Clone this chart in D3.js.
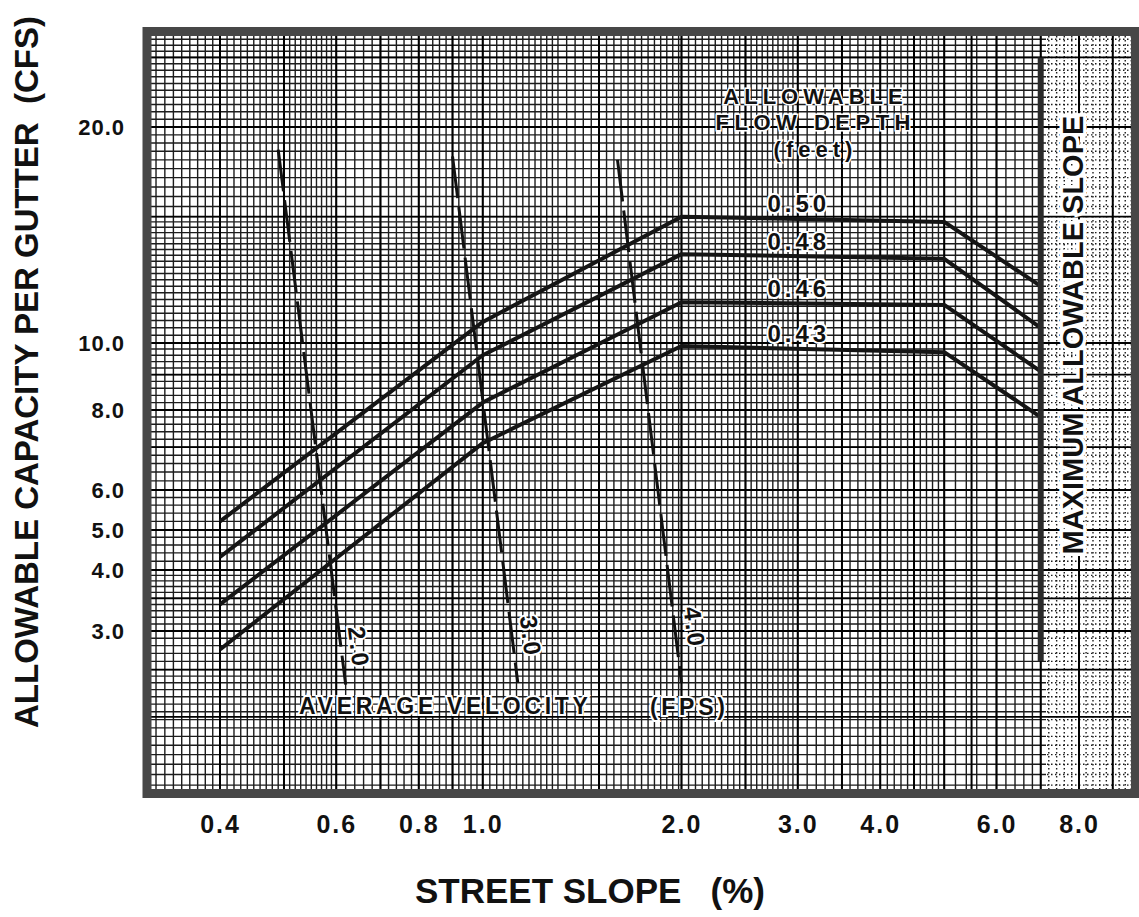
<!DOCTYPE html>
<html>
<head>
<meta charset="utf-8">
<script src="https://cdn.jsdelivr.net/npm/d3@7"></script>
<style>
  body { margin: 0; background: #fff; }
  svg text { font-family: "Liberation Sans", Arial, Helvetica, sans-serif; font-weight: bold; fill: #111; }
</style>
</head>
<body>
<svg id="chart" width="1139" height="917"></svg>
<script>
// street slope (%) at the curve vertices
var slopes = [0.4, 1.0, 2.0, 5.0, 7.0];
var depths = ["0.50", "0.48", "0.46", "0.43"];
// allowable capacity (cfs) for each flow depth at those slopes
var cap050 = [5.2, 10.7, 15.0, 14.75, 12.0];
var cap048 = [4.3, 9.6, 13.3, 13.1, 10.5];
var cap046 = [3.4, 8.2, 11.4, 11.3, 9.1];
var cap043 = [2.75, 7.1, 9.9, 9.7, 7.8];

// average velocity lines (fps), top and bottom ends
var velLabels = ["2.0", "3.0", "4.0"];
var velTopSlope = [0.49, 0.90, 1.60];
var velTopCap = [18.6, 18.2, 18.0];
var velBotSlope = [0.62, 1.13, 2.0];
var velBotCap = [2.33, 2.35, 2.35];

var maxSlope = 7.0;
var maxSlopeCap = [25, 2.6];

var xTicks = [0.4, 0.6, 0.8, 1.0, 2.0, 3.0, 4.0, 6.0, 8.0];
var yTicks = [3, 4, 5, 6, 8, 10, 20];

var svg = d3.select("#chart");
var inner = { left: 151, right: 1131, top: 36, bottom: 789 };

var x = d3.scaleLog().domain([0.4, 8]).range([220, 1079]);
// the printed capacity labels are not evenly spaced, so the scale is piecewise
var y = d3.scaleLog().domain(yTicks).range([631, 570, 530, 490, 410, 343, 127]);

var defs = svg.append("defs");
defs.append("clipPath").attr("id", "clipL").append("rect")
  .attr("x", inner.left).attr("y", inner.top)
  .attr("width", 1046 - inner.left).attr("height", inner.bottom - inner.top);
defs.append("clipPath").attr("id", "clipR").append("rect")
  .attr("x", 1046).attr("y", inner.top)
  .attr("width", inner.right - 1046).attr("height", inner.bottom - inner.top);

// log paper lines
function steps(ranges) {
  var out = [];
  ranges.forEach(function(r) {
    for (var v = r[0]; v < r[1] - 1e-9; v += r[2]) out.push(+v.toFixed(4));
  });
  return out;
}
var xFine = steps([[0.3, 0.6, 0.01], [0.6, 1, 0.02], [1, 1.3, 0.025], [1.3, 2, 0.04], [2, 3, 0.05], [3, 5, 0.1], [5, 10.01, 0.2]]);
var xMajor = steps([[0.3, 1, 0.1], [1, 6, 0.5], [6, 10.01, 1]]);
var yFine = steps([[1.3, 2.5, 0.075], [2.5, 4, 0.1], [4, 10, 0.2], [10, 15, 0.25], [15, 30, 0.5]]);
var yMajor = [2, 2.5, 3, 3.5, 4, 5, 6, 7, 8, 9, 10, 15, 20, 25];

function paper(clipId, dash) {
  var g = svg.append("g").attr("clip-path", "url(#" + clipId + ")");
  g.selectAll(".vf").data(xFine).enter().append("line")
    .attr("x1", function(d) { return x(d); }).attr("x2", function(d) { return x(d); })
    .attr("y1", inner.top).attr("y2", inner.bottom)
    .attr("stroke", "#1c1c1c").attr("stroke-width", 1.4)
    .attr("stroke-dasharray", dash);
  g.selectAll(".hf").data(yFine).enter().append("line")
    .attr("y1", function(d) { return y(d); }).attr("y2", function(d) { return y(d); })
    .attr("x1", inner.left).attr("x2", inner.right)
    .attr("stroke", "#1c1c1c").attr("stroke-width", 1.4)
    .attr("stroke-dasharray", dash);
  g.selectAll(".vm").data(xMajor).enter().append("line")
    .attr("x1", function(d) { return x(d); }).attr("x2", function(d) { return x(d); })
    .attr("y1", inner.top).attr("y2", inner.bottom)
    .attr("stroke", "#000").attr("stroke-width", 2);
  g.selectAll(".hm").data(yMajor).enter().append("line")
    .attr("y1", function(d) { return y(d); }).attr("y2", function(d) { return y(d); })
    .attr("x1", inner.left).attr("x2", inner.right)
    .attr("stroke", "#000").attr("stroke-width", 1.8);
}
paper("clipL", null);
paper("clipR", "1.5,2.5");

// frame
svg.append("rect")
  .attr("x", 147).attr("y", 31.5).attr("width", 988.5).attr("height", 762)
  .attr("fill", "none").attr("stroke", "#474747").attr("stroke-width", 9);

// velocity lines
velLabels.forEach(function(v, i) {
  var x1 = x(velTopSlope[i]), y1 = y(velTopCap[i]);
  var x2 = x(velBotSlope[i]), y2 = y(velBotCap[i]);
  svg.append("line")
    .attr("x1", x1).attr("y1", y1).attr("x2", x2).attr("y2", y2)
    .attr("stroke", "#111").attr("stroke-width", 3)
    .attr("stroke-dasharray", "42,9");
  var ang = Math.atan2(y2 - y1, x2 - x1) * 180 / Math.PI;
  var rise = [37, 46, 55][i];
  svg.append("text")
    .attr("transform", "translate(" + (x2 + 13) + "," + (y2 - rise) + ") rotate(" + ang + ")")
    .attr("text-anchor", "middle").attr("dy", "0.35em")
    .attr("font-size", 24).attr("letter-spacing", 3)
    .attr("stroke", "#fff").attr("stroke-width", 4).attr("paint-order", "stroke")
    .text(v);
});

// depth curves
var line = d3.line()
  .x(function(d) { return x(d[0]); })
  .y(function(d) { return y(d[1]); });
var caps = [cap050, cap048, cap046, cap043];
caps.forEach(function(c, i) {
  var pts = slopes.map(function(s, j) { return [s, c[j]]; });
  svg.append("path").datum(pts)
    .attr("d", line).attr("fill", "none")
    .attr("stroke", "#151515").attr("stroke-width", 4)
    .attr("stroke-linejoin", "round");
  // label above the plateau at 3.0 %
  var ya = y(c[2]), yb = y(c[3]);
  var yl = ya + (yb - ya) * (x(3) - x(2)) / (x(5) - x(2));
  svg.append("text")
    .attr("x", x(3) + 1).attr("y", yl - 15)
    .attr("text-anchor", "middle").attr("dy", "0.35em")
    .attr("font-size", 24).attr("letter-spacing", 4)
    .attr("stroke", "#fff").attr("stroke-width", 4).attr("paint-order", "stroke")
    .text(depths[i]);
});

// maximum allowable slope
svg.append("line")
  .attr("x1", x(maxSlope)).attr("x2", x(maxSlope))
  .attr("y1", y(maxSlopeCap[0])).attr("y2", y(maxSlopeCap[1]))
  .attr("stroke", "#2a2a2a").attr("stroke-width", 6);
svg.append("text")
  .attr("transform", "translate(1083,335) rotate(-90)")
  .attr("text-anchor", "middle").attr("font-size", 29)
  .attr("stroke", "#fff").attr("stroke-width", 7).attr("paint-order", "stroke")
  .text("MAXIMUM ALLOWABLE SLOPE");

// flow depth heading
var head = [["ALLOWABLE", 104, 5], ["FLOW DEPTH", 130, 5.5], ["(feet)", 157, 5]];
head.forEach(function(h) {
  svg.append("text")
    .attr("x", 813 + h[2] / 2).attr("y", h[1]).attr("text-anchor", "middle")
    .attr("font-size", 22).attr("letter-spacing", h[2])
    .attr("stroke", "#fff").attr("stroke-width", 3).attr("paint-order", "stroke")
    .text(h[0]);
});

// average velocity caption
svg.append("text")
  .attr("x", 299).attr("y", 714).attr("font-size", 23).attr("letter-spacing", 3.7)
  .attr("stroke", "#fff").attr("stroke-width", 4).attr("paint-order", "stroke")
  .text("AVERAGE VELOCITY");
svg.append("text")
  .attr("x", 650).attr("y", 715).attr("font-size", 23).attr("letter-spacing", 3.7)
  .attr("stroke", "#fff").attr("stroke-width", 4).attr("paint-order", "stroke")
  .text("(FPS)");

// axes
var xAxis = svg.append("g").attr("transform", "translate(0,833)")
  .call(d3.axisBottom(x).tickValues(xTicks).tickFormat(d3.format(".1f")).tickSize(0).tickPadding(0));
xAxis.select(".domain").remove();
xAxis.selectAll("text")
  .attr("y", 0).attr("dy", 0)
  .attr("font-size", 25).attr("letter-spacing", 2)
  .attr("font-family", "Liberation Sans, Arial, sans-serif").attr("font-weight", "bold")
  .attr("fill", "#111");

var yAxis = svg.append("g").attr("transform", "translate(125,0)")
  .call(d3.axisLeft(y).tickValues(yTicks).tickFormat(d3.format(".1f")).tickSize(0).tickPadding(0));
yAxis.select(".domain").remove();
yAxis.selectAll("text")
  .attr("dy", "0.35em")
  .attr("font-size", 22).attr("letter-spacing", 1)
  .attr("font-family", "Liberation Sans, Arial, sans-serif").attr("font-weight", "bold")
  .attr("fill", "#111");

// axis titles
svg.append("text")
  .attr("x", 590).attr("y", 903).attr("text-anchor", "middle")
  .attr("font-size", 35)
  .text("STREET SLOPE\u00a0\u00a0\u00a0(%)");
svg.append("text")
  .attr("transform", "translate(38,372) rotate(-90)")
  .attr("text-anchor", "middle").attr("font-size", 33)
  .text("ALLOWABLE CAPACITY PER GUTTER\u00a0\u00a0(CFS)");
</script>
</body>
</html>
